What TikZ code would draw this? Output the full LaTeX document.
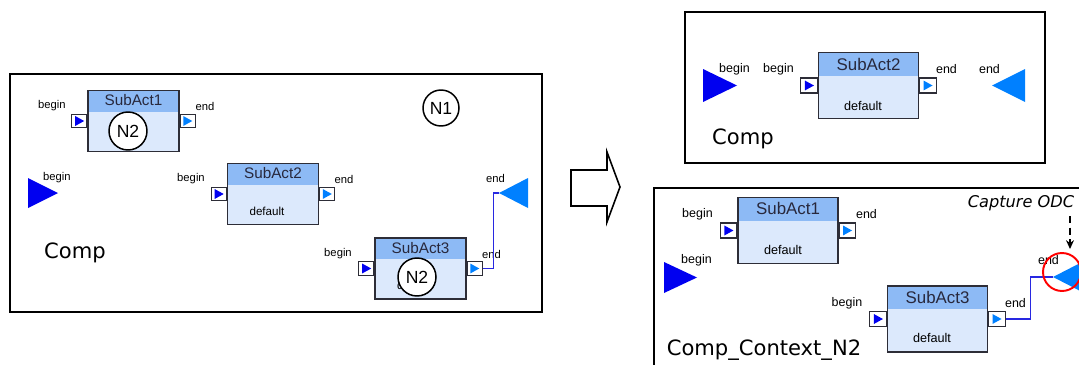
\documentclass[tikz,border=0pt]{standalone}
\usepackage{fontspec}
\setmainfont{Liberation Sans}
\newfontfamily\dejavu{DejaVu Sans}
\usepackage{xcolor}
\usetikzlibrary{positioning,calc,arrows.meta}

\definecolor{headblue}{RGB}{141,186,245}
\definecolor{bodyblue}{RGB}{220,233,252}
\definecolor{inblue}{RGB}{0,0,240}
\definecolor{outblue}{RGB}{0,128,255}
\definecolor{wireblue}{RGB}{40,40,225}
\definecolor{blockline}{RGB}{45,45,55}
\definecolor{titlecol}{RGB}{40,40,60}

\begin{document}
\begin{tikzpicture}[
    x=0.02cm, y=-0.02cm,
    frame/.style={draw, line width=1.1pt},
    block/.style={rectangle, draw=blockline, line width=0.6pt, fill=bodyblue, minimum width=1.82cm, minimum height=1.22cm, inner sep=0pt,
        path picture={\fill[headblue] (path picture bounding box.north west) rectangle ($(path picture bounding box.north east)!0.35!(path picture bounding box.south east)$);}},
    bigblock/.style={block, minimum width=2cm, minimum height=1.32cm},
    port/.style={rectangle, draw=blockline, fill=white, line width=0.6pt, minimum width=0.3cm, minimum height=0.27cm, inner sep=0pt,
        path picture={\fill[#1] ($(path picture bounding box.center)+(-2.4pt,2.8pt)$) -- ($(path picture bounding box.center)+(2.7pt,0pt)$) -- ($(path picture bounding box.center)+(-2.4pt,-2.8pt)$) -- cycle;}},
    bigport/.style={port=#1, minimum width=0.33cm, minimum height=0.3cm},
    title/.style={font=\fontsize{8.7}{9}\selectfont, text=titlecol, inner sep=0pt},
    bigtitle/.style={title, font=\fontsize{9.6}{10}\selectfont},
    lbl/.style={font=\fontsize{6.4}{7}\selectfont, inner sep=0pt},
    biglbl/.style={lbl, font=\fontsize{7.1}{8}\selectfont},
    dflt/.style={font=\fontsize{6.6}{7}\selectfont, inner sep=0pt},
    bigdflt/.style={dflt, font=\fontsize{7.2}{8}\selectfont},
    ncirc/.style={circle, draw, fill=white, line width=0.85pt, minimum size=0.76cm, inner sep=0pt, font=\fontsize{10}{10}\selectfont},
    cname/.style={font=\dejavu\fontsize{12}{12}\selectfont, inner sep=0pt},
    wire/.style={draw=wireblue, line width=0.6pt}
]
    \useasboundingbox (0,0) rectangle (1079,365);
    \clip (0,0) rectangle (1079,365);

    % left: Comp with nodes N1, N2
    \draw[frame] (10,74) rectangle (542,312);

    \node[block] (sa1) at (133.5,121) {};
    \node[title] at ($(sa1.north)+(0,10.5)$) {SubAct1};
    \node[port=inblue, anchor=east] (sa1in) at (sa1.west) {};
    \node[port=outblue, anchor=west] (sa1out) at (sa1.east) {};
    \node[lbl] at (52,106) {begin};
    \node[lbl] at (205,106) {end};
    \node[ncirc] (n2a) at (128,131) {N2};

    \node[block] (sa2) at (273,194) {};
    \node[title] at ($(sa2.north)+(0,10.5)$) {SubAct2};
    \node[dflt] at ($(sa2.north)+(-6,48)$) {default};
    \node[port=inblue, anchor=east] (sa2in) at (sa2.west) {};
    \node[port=outblue, anchor=west] (sa2out) at (sa2.east) {};
    \node[lbl] at (191,179) {begin};
    \node[lbl] at (344,179) {end};

    \node[block] (sa3) at (420.5,268.5) {};
    \node[title] at ($(sa3.north)+(0,10.5)$) {SubAct3};
    \node[dflt] at ($(sa3.north)+(-6,48)$) {default};
    \node[port=inblue, anchor=east] (sa3in) at (sa3.west) {};
    \node[port=outblue, anchor=west] (sa3out) at (sa3.east) {};
    \node[lbl] at (338,254) {begin};
    \node[lbl] at (491.5,254) {end};
    \node[ncirc] (n2b) at (417,277) {N2};

    \fill[inblue] (28,178) -- (58,193) -- (28,208) -- cycle;
    \node[lbl] at (57,178) {begin};
    \coordinate (compout) at (499,193);
    \fill[outblue] (compout) -- (528,178) -- (528,208) -- cycle;
    \node[lbl] at (495.5,178) {end};
    \draw[wire] (sa3out.east) -- ++(11,0) |- (compout);

    \node[ncirc, minimum size=0.72cm] (n1) at (441,108) {N1};
    \node[cname] at (75,253) {Comp};

    % hollow arrow
    \draw[line width=0.9pt] (571,170) -- (607,170) -- (607,152) -- (620,187) -- (607,222) -- (607,206) -- (571,206) -- cycle;

    % right top: Comp
    \draw[frame] (685,12) rectangle (1045,163);
    \fill[inblue] (703,69) -- (737,85.5) -- (703,102) -- cycle;
    \node[biglbl] at (734.5,69) {begin};
    \node[bigblock] (sc2) at (868.5,85.5) {};
    \node[bigtitle] at ($(sc2.north)+(0,12)$) {SubAct2};
    \node[bigdflt] at ($(sc2.north)+(-5.5,54)$) {default};
    \node[bigport=inblue, anchor=east] (sc2in) at (sc2.west) {};
    \node[bigport=outblue, anchor=west] (sc2out) at (sc2.east) {};
    \node[biglbl] at (778.5,69) {begin};
    \node[biglbl] at (946.5,69) {end};
    \node[biglbl] at (989.5,69) {end};
    \fill[outblue] (992,85.5) -- (1025,69) -- (1025,102) -- cycle;
    \node[cname] at (743,139) {Comp};

    % right bottom: Comp_Context_N2
    \draw[frame] (1090,188) -- (654,188) -- (654,375);

    \node[bigblock] (sb1) at (788,230.5) {};
    \node[bigtitle] at ($(sb1.north)+(0,11.5)$) {SubAct1};
    \node[bigdflt] at ($(sb1.north)+(-5,53)$) {default};
    \node[bigport=inblue, anchor=east] (sb1in) at (sb1.west) {};
    \node[bigport=outblue, anchor=west] (sb1out) at (sb1.east) {};
    \node[biglbl] at (697.5,214) {begin};
    \node[biglbl] at (866.5,214) {end};

    \fill[inblue] (664,262) -- (697,277.5) -- (664,293) -- cycle;
    \node[biglbl] at (696.5,260) {begin};

    \node[bigblock] (sb3) at (937.5,319) {};
    \node[bigtitle] at ($(sb3.north)+(0,11.5)$) {SubAct3};
    \node[bigdflt] at ($(sb3.north)+(-5.5,52)$) {default};
    \node[bigport=inblue, anchor=east] (sb3in) at (sb3.west) {};
    \node[bigport=outblue, anchor=west] (sb3out) at (sb3.east) {};
    \node[biglbl] at (847,303) {begin};
    \node[biglbl] at (1015.5,303) {end};

    \node[biglbl] at (1048.5,260) {end};
    \coordinate (ctxout) at (1053,277);
    \fill[outblue] (ctxout) -- (1086,260) -- (1086,294) -- cycle;
    \draw[wire] (sb3out.east) -- ++(25,0) |- (ctxout);

    \node[circle, draw=red, line width=1.1pt, minimum size=0.76cm, inner sep=0pt] (odc) at (1062,272) {};
    \node[font=\dejavu\itshape\fontsize{9.2}{10}\selectfont, inner sep=0pt] (cap) at (1021,203) {Capture ODC};
    \coordinate (odctop) at (1070,249);
    \draw[line width=0.7pt, dash pattern=on 4pt off 2.5pt, -{Stealth[length=5pt, width=4.5pt]}] ([yshift=-3pt]cap.south -| odctop) -- (odctop);

    \node[cname] at (764,350) {Comp\_Context\_N2};
\end{tikzpicture}
\end{document}
